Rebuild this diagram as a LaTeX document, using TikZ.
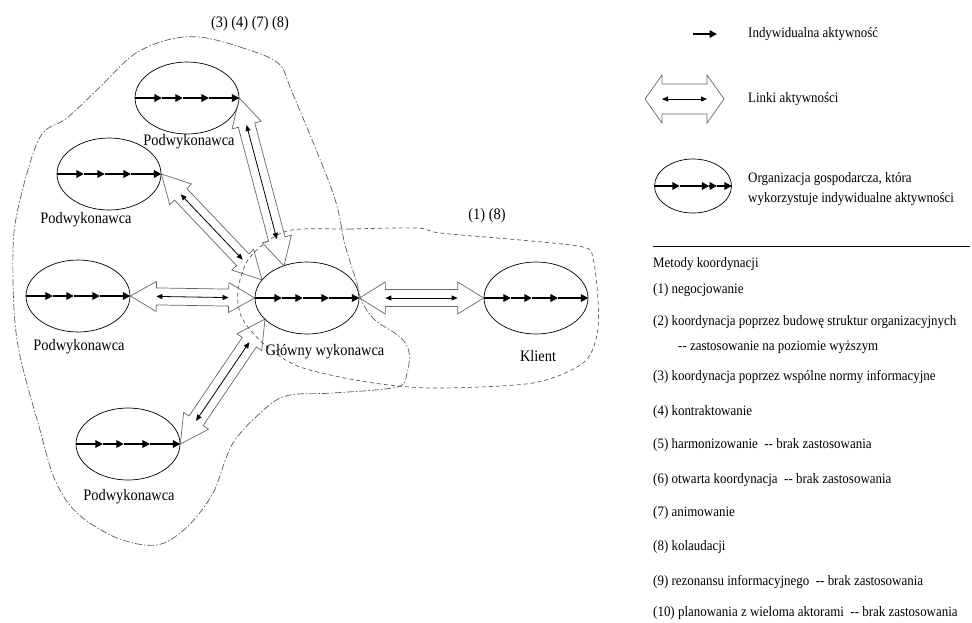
\documentclass[tikz,border=0pt]{standalone}
\usepackage{fontspec}
\setmainfont[FakeStretch=0.9]{Liberation Serif}
\usetikzlibrary{calc,shapes.geometric,arrows.meta}
\newcommand{\actline}[5]{%
  \draw[act] (#1.west) -- ($(#1.west)!#2!(#1.east)$);
  \draw[act] ($(#1.west)!#2!(#1.east)$) -- ($(#1.west)!#3!(#1.east)$);
  \draw[act] ($(#1.west)!#3!(#1.east)$) -- ($(#1.west)!#4!(#1.east)$);
  \draw[act] ($(#1.west)!#4!(#1.east)$) -- ($(#1.west)!#5!(#1.east)$);}
\newcommand{\linkarr}[5]{%
  \draw[lnk] (#1) -- ($(#1)!#3!(#2)!#4!90:(#2)$) -- ($(#1)!#3!(#2)!#5!90:(#2)$)
    -- ($(#2)!#3!(#1)!#5!-90:(#1)$) -- ($(#2)!#3!(#1)!#4!-90:(#1)$) -- (#2)
    -- ($(#2)!#3!(#1)!#4!90:(#1)$) -- ($(#2)!#3!(#1)!#5!90:(#1)$)
    -- ($(#1)!#3!(#2)!#5!-90:(#2)$) -- ($(#1)!#3!(#2)!#4!-90:(#2)$) -- cycle;
  \draw[inarr] ($(#1)!#3!(#2)$) -- ($(#2)!#3!(#1)$);}
\begin{document}
\begin{tikzpicture}[x=1pt,y=-1pt,
  org/.style={draw=black, line width=0.7pt, ellipse, minimum width=104pt, minimum height=72pt, inner sep=0pt},
  act/.style={line width=1.7pt, -{Triangle[length=7.5pt,width=7.5pt]}},
  lnk/.style={draw=black!60, line width=0.7pt, line join=miter},
  inarr/.style={line width=0.8pt, {Triangle[length=6pt,width=5pt]}-{Triangle[length=6pt,width=5pt]}},
  blob/.style={draw=black!65, line width=0.7pt, dash pattern=on 7pt off 2pt on 1.5pt off 2pt},
  dreg/.style={draw=black!65, line width=0.7pt, dash pattern=on 4pt off 3pt},
  lab/.style={font=\fontsize{16}{18}\selectfont, inner sep=0pt},
  leg/.style={font=\fontsize{14.4}{16}\selectfont, inner sep=0pt, anchor=west}]
\useasboundingbox (0,0) rectangle (972,622);

% regions
\draw[blob] plot[smooth cycle, tension=0.55] coordinates {
  (200,37) (240,47) (278,63) (292,92) (333,193) (345,245) (357,283) (362,302)
  (375,320) (400,337) (409,352) (407,373) (397,387) (333,393) (290,395) (267,407)
  (233,443) (213,493) (187,527) (157,545) (117,538) (77,513) (55,480) (40,430)
  (17,340) (13,250) (20,200) (40,137) (67,118) (100,87) (133,55) (167,40)};
\draw[dreg] plot[smooth cycle, tension=0.5] coordinates {
  (287,231) (350,229) (417,228) (440,233) (520,240) (583,247) (593,258) (598,300)
  (597,335) (583,363) (533,383) (433,388) (367,382) (300,367) (265,345) (242,318)
  (238,290) (250,257)};

% organisations
\node[org] (s1) at (187,98) {};
\node[org] (s2) at (109,174) {};
\node[org] (s3) at (78,296) {};
\node[org] (s4) at (128,444) {};
\node[org] (g) at (307,298) {};
\node[org] (k) at (536,298) {};
\foreach \n in {s1,s2,s3,s4,g,k} {\actline{\n}{.26}{.46}{.71}{1}}

% links
\coordinate (g1) at (284,266);
\coordinate (g2) at (262,280);
\coordinate (g4) at (265,319);
\linkarr{s1.east}{g1}{28pt}{15pt}{8.5pt}
\linkarr{s2.east}{g2}{28pt}{15pt}{8.5pt}
\linkarr{s3.east}{g.west}{26pt}{15pt}{8.5pt}
\linkarr{s4.east}{g4}{28pt}{15pt}{8.5pt}
\linkarr{g.east}{k.west}{26pt}{16pt}{8.5pt}

% labels
\node[lab] (ls1) at (189,142) {Podwykonawca};
\node[lab] (ls2) at (86,220) {Podwykonawca};
\node[lab] (ls3) at (79,347) {Podwykonawca};
\node[lab] (ls4) at (129,497) {Podwykonawca};
\node[lab] (lg) at (325,352) {Główny wykonawca};
\node[lab] (lk) at (538,356) {Klient};
\node[lab] (t1) at (250,24) {(3) (4) (7) (8)};
\node[lab] (t2) at (487,216) {(1) (8)};

% legend
\coordinate (la1) at (693,34); \coordinate (la2) at (717,34);
\draw[act] (la1) -- (la2);
\node[leg] (lt1) at (748,34) {Indywidualna aktywność};
\coordinate (lb1) at (645,99); \coordinate (lb2) at (724,99);
\linkarr{lb1}{lb2}{17pt}{24pt}{15pt}
\node[leg] (lt2) at (748,99) {Linki aktywności};
\node[org, minimum width=77pt, minimum height=54pt] (le) at (693,186) {};
\actline{le}{.33}{.71}{.81}{1}
\node[leg, align=left, font=\fontsize{14.4}{20}\selectfont] (lt3) at (748,189) {Organizacja gospodarcza, która\\wykorzystuje indywidualne aktywności};

\coordinate (r1) at (653,246); \coordinate (r2) at (970,246);
\draw[line width=1pt] (r1) -- (r2);
\node[leg] (m0) at (653,264) {Metody koordynacji};
\node[leg] (m1) at (653,290) {(1) negocjowanie};
\node[leg] (m2) at (653,322) {(2) koordynacja poprzez budowę struktur organizacyjnych};
\node[leg] (m2b) at (678,347) {-{}- zastosowanie na poziomie wyższym};
\node[leg] (m3) at (653,377) {(3) koordynacja poprzez wspólne normy informacyjne};
\node[leg] (m4) at (653,412) {(4) kontraktowanie};
\node[leg] (m5) at (653,445) {(5) harmonizowanie \ -{}- brak zastosowania};
\node[leg] (m6) at (653,480) {(6) otwarta koordynacja \ -{}- brak zastosowania};
\node[leg] (m7) at (653,513) {(7) animowanie};
\node[leg] (m8) at (653,547) {(8) kolaudacji};
\node[leg] (m9) at (653,582) {(9) rezonansu informacyjnego \ -{}- brak zastosowania};
\node[leg] (m10) at (653,613) {(10) planowania z wieloma aktorami \ -{}- brak zastosowania};
\end{tikzpicture}
\end{document}
